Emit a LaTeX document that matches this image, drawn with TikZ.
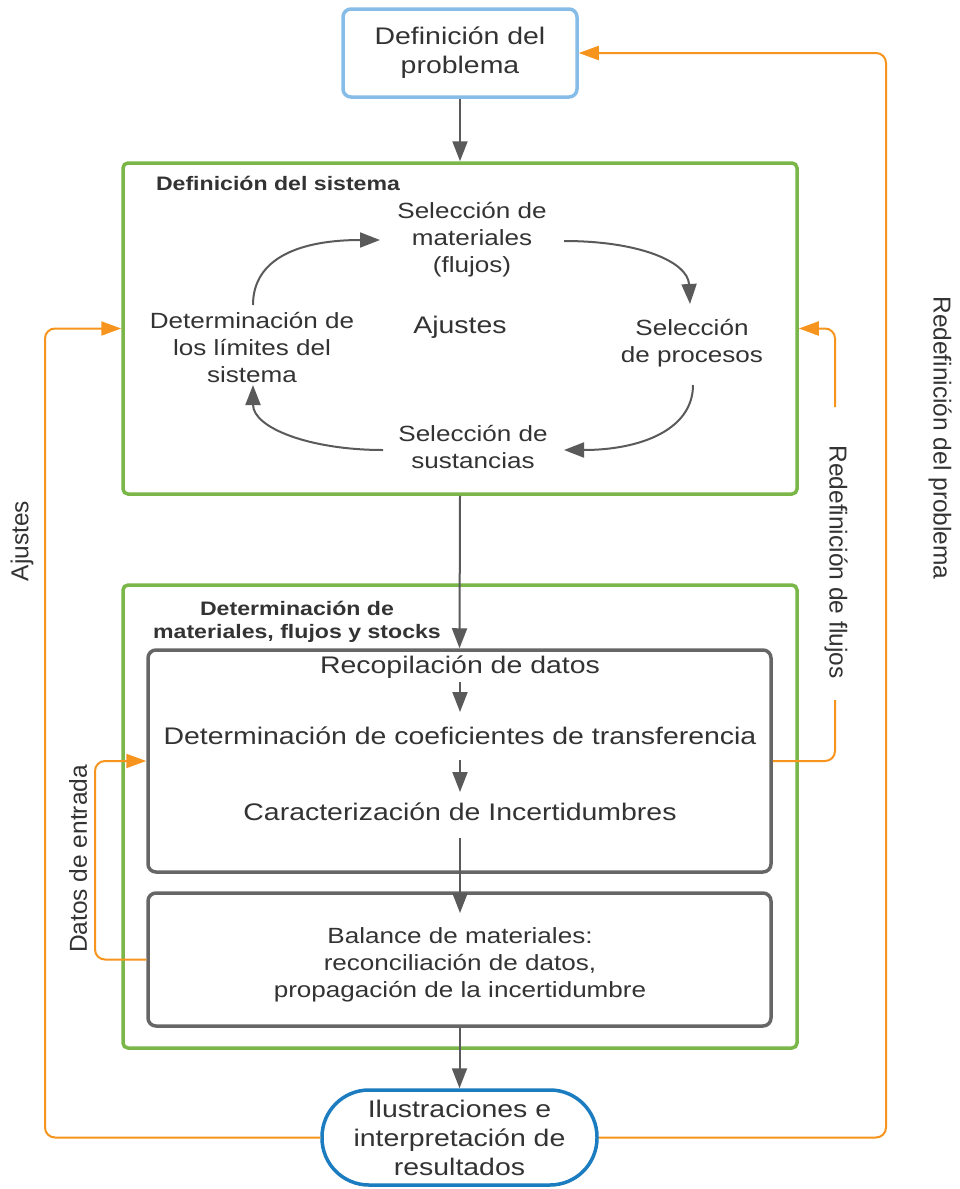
\documentclass[tikz,border=0pt]{standalone}
\usepackage{fontspec}
\setmainfont{Liberation Sans}[FakeStretch=1.185]
\newfontfamily\rotfont{Liberation Sans}
\usetikzlibrary{arrows.meta}
\definecolor{txt}{HTML}{333333}
\definecolor{lineg}{HTML}{5A5A5A}
\definecolor{boxg}{HTML}{666666}
\definecolor{sysgreen}{HTML}{7AB648}
\definecolor{lightblue}{HTML}{86BDE8}
\definecolor{darkblue}{HTML}{1C7CC0}
\definecolor{orng}{HTML}{F7941D}
\tikzset{
  base/.style={font=\fontsize{24}{29}\selectfont, text=txt, align=center, inner sep=0pt},
  cyc/.style={font=\fontsize{22}{27}\selectfont, text=txt, align=center, inner sep=0pt},
  ttl/.style={font=\bfseries\fontsize{19.5}{22.5}\selectfont, text=txt, align=center, inner sep=0pt},
  side/.style={font=\rotfont\fontsize{24.5}{29}\selectfont, text=txt, inner sep=0pt},
  bluebox/.style={draw=lightblue, line width=3.5pt, rounded corners=8pt, fill=white},
  greenbox/.style={draw=sysgreen, line width=3.5pt, rounded corners=5pt},
  graybox/.style={draw=boxg, line width=3.5pt, rounded corners=8pt},
  stadium/.style={draw=darkblue, line width=3.5pt, rounded corners=47pt, fill=white},
  flow/.style={draw=lineg, line width=2pt, -{Triangle[length=20pt,width=15pt]}},
  fb/.style={draw=orng, line width=2pt, rounded corners=10pt},
  fbarrow/.style={fb, -{Triangle[length=20pt,width=14pt]}},
}
\begin{document}
\begin{tikzpicture}[x=1pt,y=-1pt]
\fill[white] (0,0) rectangle (960,1189);
\useasboundingbox (0,0) rectangle (960,1189);

% main boxes
\node[bluebox, base, minimum width=234, minimum height=88] (prob) at (460,53) {Definición del\\problema};
\node[greenbox, minimum width=674, minimum height=331] (sys) at (460,328.5) {};
\node[greenbox, minimum width=674, minimum height=463] (det) at (460,816.5) {};
\node[graybox, minimum width=623, minimum height=222] (b1) at (459.5,761) {};
\node[graybox, minimum width=623, minimum height=133] (b2) at (459.5,959.5) {};
\node[stadium, base, minimum width=275, minimum height=95] (ill) at (459.5,1137.5) {Ilustraciones e\\interpretación de\\resultados};

% system definition contents
\node[ttl] (systtl) at (278,183) {Definición del sistema};
\node[cyc] (mat) at (472,240) {Selección de\\materiales\\(flujos)};
\node[cyc] (proc) at (692,343) {Selección\\de procesos};
\node[cyc] (sust) at (473,447) {Selección de\\sustancias};
\node[cyc] (lim) at (252,348) {Determinación de\\los límites del\\sistema};
\node[base] (aju) at (460,327) {Ajustes};

\coordinate (c1s) at (253,305); \coordinate (c1e) at (380,240);
\coordinate (c2s) at (564,241); \coordinate (c2e) at (690,304);
\coordinate (c3s) at (693,385); \coordinate (c3e) at (564,450);
\coordinate (c4s) at (383,450); \coordinate (c4e) at (253,385);
\draw[flow] (c1s) .. controls (253,258) and (300,240) .. (c1e);
\draw[flow] (c2s) .. controls (640,241) and (688,262) .. (c2e);
\draw[flow] (c3s) .. controls (693,430) and (640,450) .. (c3e);
\draw[flow] (c4s) .. controls (310,450) and (253,428) .. (c4e);

% flows, stocks contents
\node[ttl] (dettl) at (297,622) {Determinación de\\materiales, flujos y stocks};
\node[base] (recop) at (460,667) {Recopilación de datos};
\node[base] (coef) at (460,736) {Determinación de coeficientes de transferencia};
\node[base] (carac) at (460,812) {Caracterización de Incertidumbres};
\node[cyc] (bal) at (460,965) {Balance de materiales:\\reconciliación de datos,\\propagación de la incertidumbre};

\coordinate (s1a) at (460,682); \coordinate (s1b) at (460,712);
\coordinate (s2a) at (460,760); \coordinate (s2b) at (460,792);
\coordinate (s3a) at (460,838); \coordinate (s3b) at (460,913);

% main sequence
\draw[flow] (prob.south) -- (sys.north);
\draw[flow] (sys.south) -- (b1.north);
\draw[flow] (s1a) -- (s1b);
\draw[flow] (s2a) -- (s2b);
\draw[flow] (s3a) -- (s3b);
\draw[flow] (b2.south) -- (ill.north);

% feedback loops
\coordinate (ajx) at (45,700);
\coordinate (rpx) at (886,600);
\coordinate (dex) at (95,860);
\coordinate (flA) at (835,700);
\coordinate (flB) at (835,407);
\draw[fbarrow] (ill.west) -| (ajx) |- (sys.west);
\draw[fbarrow] (ill.east) -| (rpx) |- (prob.east);
\draw[fbarrow] (b2.west) -| (dex) |- (b1.west);
\draw[fb] (b1.east) -| (flA);
\draw[fbarrow] (flB) |- (sys.east);

% side labels
\node[side, rotate=90] (lajus) at (22,541) {Ajustes};
\node[side, rotate=90] (ldat) at (78,859) {Datos de entrada};
\node[side, rotate=-90] (lflu) at (836,562) {Redefinición de flujos};
\node[side, rotate=-90] (lprob) at (940,438) {Redefinición del problema};
\end{tikzpicture}
\end{document}
